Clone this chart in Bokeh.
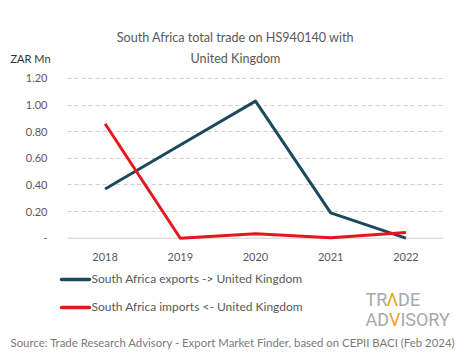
from bokeh.plotting import figure
from bokeh.models import FactorRange, Range1d, FixedTicker, Span
from bokeh.layouts import column
from bokeh.core.properties import value
from bokeh.embed import file_html
from bokeh.resources import INLINE

years = ["2018", "2019", "2020", "2021", "2022"]
exports = [0.37, 0.70, 1.03, 0.19, 0.0]
imports = [0.86, 0.0, 0.033, 0.003, 0.043]
y_ticks = [0.0, 0.2, 0.4, 0.6, 0.8, 1.0, 1.2]
y_tick_labels = ["-", "0.20", "0.40", "0.60", "0.80", "1.00", "1.20"]
title_lines = ["South Africa total trade on HS940140 with", "United Kingdom"]
unit_label = "ZAR Mn"
series_names = ["South Africa exports -> United Kingdom", "South Africa imports <- United Kingdom"]
source_text = "Source: Trade Research Advisory - Export Market Finder, based on CEPII BACI (Feb 2024)"

FONT = "Lato"
GRAY = "#595959"
EXP_COLOR = "#1b4a5f"
IMP_COLOR = "#e8161c"
W = 460


def blank(h):
    f = figure(width=W, height=h, x_range=Range1d(0, W), y_range=Range1d(h, 0),
               output_backend="svg", toolbar_location=None, frame_align=False,
               min_border=0, min_border_left=0, min_border_right=0,
               min_border_top=0, min_border_bottom=0)
    f.axis.visible = False
    f.grid.grid_line_color = None
    f.outline_line_color = None
    return f


def txt(f, x, y, t, size="11px", color=GRAY, align="left", font=FONT):
    f.text(x=[x], y=[y], text=[t], text_font=value(font), text_font_size=size,
           text_color=color, text_align=align, text_baseline="middle")


# header
head = blank(70)
txt(head, 235, 37, title_lines[0], size="12.6px", align="center")
txt(head, 235, 58, title_lines[1], size="12.6px", align="center")
txt(head, 10, 58, unit_label, size="11px", color="#333333")

# main chart
p = figure(width=W, height=200, x_range=FactorRange(*years, range_padding=0),
           y_range=Range1d(-0.0323, 1.2225), output_backend="svg", toolbar_location=None,
           frame_align=False,
           min_border_left=67, min_border_right=17, min_border_top=5, min_border_bottom=28)
p.outline_line_color = None

p.line(years, exports, line_color=EXP_COLOR, line_width=3, line_join="round")
p.line(years, imports, line_color=IMP_COLOR, line_width=3, line_join="round")

p.xgrid.grid_line_color = None
p.ygrid.ticker = FixedTicker(ticks=y_ticks[1:])
p.ygrid.grid_line_color = "#cfcfcf"
p.ygrid.grid_line_dash = "4 3"
p.add_layout(Span(location=0, dimension="width", line_color="#cfcfcf", line_width=1,
                  level="underlay"))

p.yaxis.ticker = FixedTicker(ticks=y_ticks)
p.yaxis.major_label_overrides = {t: l for t, l in zip(y_ticks, y_tick_labels)}
p.yaxis.axis_line_color = None
p.yaxis.major_tick_line_color = None
p.yaxis.minor_tick_line_color = None
p.yaxis.major_label_standoff = 14
p.yaxis.major_label_text_font = FONT
p.yaxis.major_label_text_font_size = "11px"
p.yaxis.major_label_text_color = GRAY

p.xaxis.axis_line_color = None
p.xaxis.major_tick_line_color = None
p.xaxis.minor_tick_line_color = None
p.xaxis.major_label_standoff = 4
p.xaxis.major_label_text_font = FONT
p.xaxis.major_label_text_font_size = "11px"
p.xaxis.major_label_text_color = GRAY

# footer: legend, logo, source
foot = blank(89)
for i, (name, col) in enumerate(zip(series_names, [EXP_COLOR, IMP_COLOR])):
    yy = 9 + 28 * i
    foot.segment(x0=[61], y0=[yy], x1=[89], y1=[yy], line_color=col, line_width=3.5,
                 line_cap="round")
    txt(foot, 91, yy - 1, name, size="12px")

LOGO = "Roboto"
LG = "#a8a8a8"
OR = "#f0a01e"
txt(foot, 365, 29, "TR", size="18px", color=LG, font=LOGO)
txt(foot, 385.9, 29, "\u039b", size="18px", color=OR, font=LOGO)
txt(foot, 397.6, 29, "DE", size="18px", color=LG, font=LOGO)
txt(foot, 365, 49, "AD", size="18px", color=LG, font=LOGO)
txt(foot, 388.4, 49, "V", size="18px", color=OR, font=LOGO)
txt(foot, 399.9, 49, "ISORY", size="18px", color=LG, font=LOGO)

txt(foot, 10, 72, source_text, size="11.4px", color="#7a7a7a")

layout = column(head, p, foot, spacing=0)
open("out.html", "w").write(file_html(layout, INLINE))
